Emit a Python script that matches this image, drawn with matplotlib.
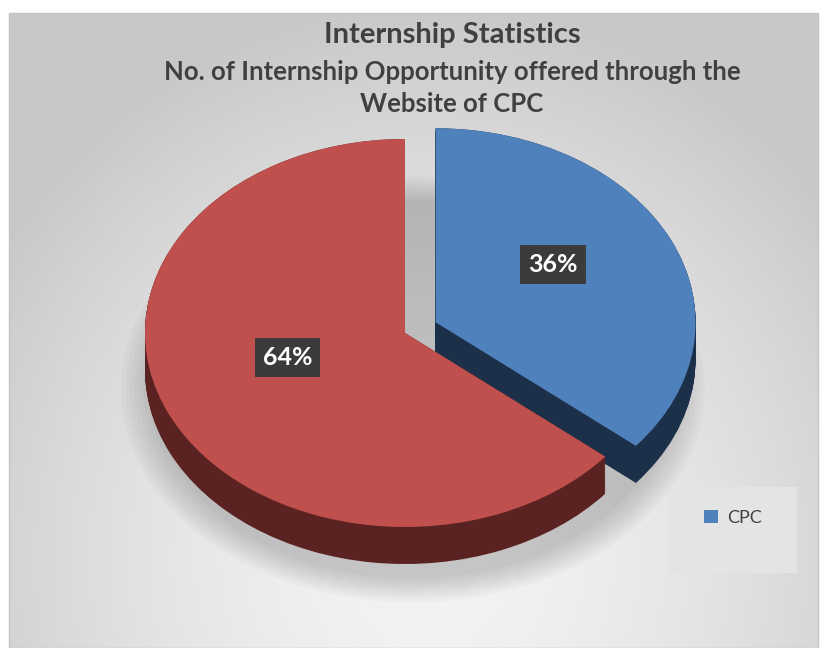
import numpy as np
import matplotlib.pyplot as plt
from matplotlib.patches import Rectangle, Ellipse

# ------------------------
# Data
# ------------------------
labels = ["CPC", "Others"]
values = [36, 64]
top_colors = ["#4f81bd", "#c0504d"]
side_colors = ["#1d3049", "#5a2220"]
explode = [0.13, 0.0]

title = "Internship Statistics"
subtitle = "No. of Internship Opportunity offered through the\nWebsite of CPC"

plt.rcParams["font.family"] = ["Lato", "DejaVu Sans"]

W, H = 825, 648
fig = plt.figure(figsize=(W / 100, H / 100), dpi=100)
fig.patch.set_facecolor("white")

# ------------------------
# Background panel (pixel coords)
# ------------------------
bg = fig.add_axes([0, 0, 1, 1])
bg.set_xlim(0, W)
bg.set_ylim(H, 0)
bg.axis("off")

x0, x1, y0, y1 = 9, 818, 13, 648
gx, gy = np.meshgrid(np.linspace(x0, x1, 300), np.linspace(y0, y1, 240))
d = np.sqrt(((gx - 430) / 520) ** 2 + ((gy - 560) / 560) ** 2)
d = np.clip(d, 0, 1)
shade = 0.955 - 0.17 * d ** 1.6
img = np.dstack([shade, shade, shade])
bg.imshow(img, extent=(x0, x1, y1, y0), aspect="auto", zorder=0)
bg.add_patch(Rectangle((x0, y0), x1 - x0, y1 - y0, fill=False,
                       edgecolor="#c4c4c4", lw=1, zorder=1))

# legend box
bg.add_patch(Rectangle((669, 487), 128, 86, facecolor="#e4e4e4",
                       edgecolor="none", zorder=2))

# titles
bg.text(452, 35, title, ha="center", va="center", fontsize=21,
        fontweight="bold", color="#404040", zorder=3)
bg.text(452, 88, subtitle, ha="center", va="center", fontsize=18.5,
        fontweight="bold", color="#404040", linespacing=1.35, zorder=3)

# ------------------------
# Pie (squashed to look 3D)
# ------------------------
cx, cy = 405, 333      # pixel centre of the pie
rx, ry = 260, 194      # pixel radii
ax_l, ax_r = -1.5, 1.5
ax_b, ax_t = -1.6, 1.6
ax = fig.add_axes([(cx + ax_l * rx) / W, 1 - (cy + ax_t * ry) / H,
                   (ax_r - ax_l) * rx / W, (ax_t - ax_b) * ry / H])
ax.patch.set_alpha(0)

depth = 37 / ry

# soft shadow under the pie
for k in range(8):
    ax.add_patch(Ellipse((0.03, -depth - 0.1), 2.0 + 0.035 * k, 1.95 + 0.035 * k,
                         facecolor="#000000", alpha=0.022, edgecolor="none",
                         zorder=0))

# side walls: stacked copies of the pie, pushed down
layers = np.linspace(depth, 0, 40)
for i in range(len(values)):
    cols = ["none"] * len(values)
    cols[i] = side_colors[i]
    for dz in layers:
        ax.pie(values, colors=cols, explode=explode, startangle=90,
               counterclock=False, center=(0, -dz),
               wedgeprops=dict(edgecolor="none", linewidth=0))

# top face
wedges, _, autotexts = ax.pie(
    values, colors=top_colors, explode=explode, startangle=90,
    counterclock=False, autopct="%1.0f%%", pctdistance=0.5,
    wedgeprops=dict(edgecolor="none", linewidth=0),
    textprops=dict(color="white", fontsize=18, fontweight="bold"))
for t in autotexts:
    px, py = t.get_position()
    t.set_position((px, py + 0.085))
    t.set_bbox(dict(boxstyle="square,pad=0.32", facecolor="#3b3b3b",
                    edgecolor="none"))

ax.set_aspect("auto")
ax.set_xlim(ax_l, ax_r)
ax.set_ylim(ax_b, ax_t)
ax.axis("off")

fig.legend([wedges[0]], [labels[0]], loc="center",
           bbox_to_anchor=(733 / W, 1 - 518 / H), frameon=False,
           fontsize=13, handlelength=0.75, handleheight=0.75,
           handletextpad=0.5, labelcolor="#404040")

fig.savefig("out.png", dpi=100, facecolor=fig.get_facecolor())
